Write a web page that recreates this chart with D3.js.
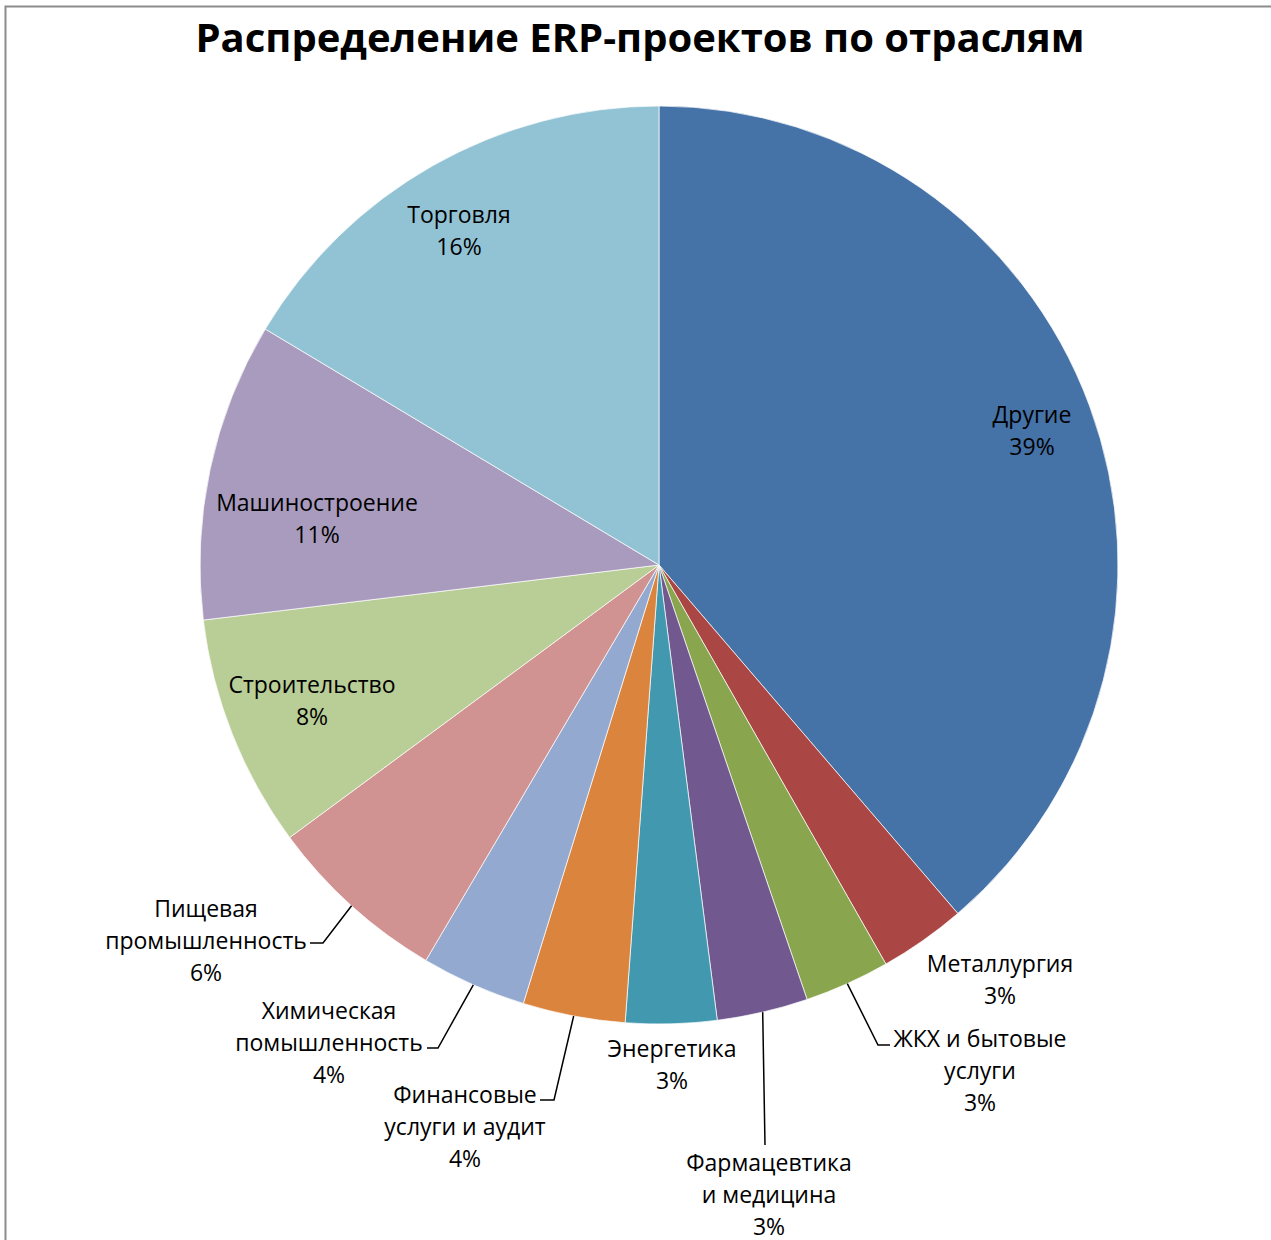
<!DOCTYPE html>
<html>
<head>
<meta charset="utf-8">
<script src="https://cdn.jsdelivr.net/npm/d3@7"></script>
<style>
  body { margin: 0; background: #fff; }
  text { font-family: "Open Sans", sans-serif; fill: #000; }
</style>
</head>
<body>
<div id="pie"></div>
<script>
// data
const categories = ['Другие', 'Металлургия', 'ЖКХ и бытовые услуги', 'Фармацевтика и медицина',
    'Энергетика', 'Финансовые услуги и аудит', 'Химическая помышленность',
    'Пищевая промышленность', 'Строительство', 'Машиностроение', 'Торговля'];
const values = [38.7, 3.05, 3.0, 3.2, 3.2, 3.6, 3.7, 6.4, 8.2, 10.5, 16.4];
const percentLabels = ['39%', '3%', '3%', '3%', '3%', '4%', '4%', '6%', '8%', '11%', '16%'];
const labelLines = [
    ['Другие'], ['Металлургия'], ['ЖКХ и бытовые', 'услуги'], ['Фармацевтика', 'и медицина'],
    ['Энергетика'], ['Финансовые', 'услуги и аудит'], ['Химическая', 'помышленность'],
    ['Пищевая', 'промышленность'], ['Строительство'], ['Машиностроение'], ['Торговля']
];
const colors = ['#4572A7', '#AA4643', '#89A54E', '#71588F', '#4198AF', '#DB843D',
    '#93A9CF', '#D19392', '#B9CD96', '#A99BBD', '#92C3D4'];

const W = 1271, H = 1240;
const cx = 659, cy = 565, R = 459;
const lh = 32;

// label centres relative to pie centre, and leader elbow (null = no leader)
const labelPos = [
    [373, -134], [341, 415], [321, 506], [110, 630], [13, 500], [-194, 562],
    [-330, 478], [-453, 376], [-347, 136], [-342, -46], [-200, -334]
];
const elbows = [null, null, [219, 480], [106, 580], null, [-105, 535],
    [-221, 483], [-336, 378], null, null, null];
const textEnds = [null, null, [231, 480], [106, 580], null, [-119, 535],
    [-232, 483], [-349, 378], null, null, null];

const svg = d3.select('#pie')
    .append('svg')
    .attr('width', W)
    .attr('height', H);

// chart frame
svg.append('rect')
    .attr('x', 5.5).attr('y', 6.5)
    .attr('width', W + 20).attr('height', H + 20)
    .attr('fill', 'none')
    .attr('stroke', '#8c8c8c')
    .attr('stroke-width', 2);

svg.append('text')
    .attr('x', 640)
    .attr('y', 52)
    .attr('text-anchor', 'middle')
    .style('font-size', '40px')
    .style('font-weight', 'bold')
    .text('Распределение ERP-проектов по отраслям');

const data = categories.map((c, i) => ({name: c, v: values[i], i: i}));

const pie = d3.pie()
    .value(d => d.v)
    .sort(null);

const arc = d3.arc()
    .innerRadius(0)
    .outerRadius(R);

const pieData = pie(data);

const g = svg.append('g')
    .attr('transform', `translate(${cx},${cy})`);

g.selectAll('path')
    .data(pieData)
    .enter()
    .append('path')
    .attr('d', arc)
    .attr('fill', d => colors[d.data.i])
    .attr('stroke', '#fff')
    .attr('stroke-width', 0.7);

// leader lines
g.selectAll('polyline')
    .data(pieData.filter(d => elbows[d.data.i]))
    .enter()
    .append('polyline')
    .attr('fill', 'none')
    .attr('stroke', '#000')
    .attr('stroke-width', 1.5)
    .attr('points', d => {
        const a = (d.startAngle + d.endAngle) / 2;
        const p0 = [R * Math.sin(a), -R * Math.cos(a)];
        const e = elbows[d.data.i], t = textEnds[d.data.i];
        return [p0, e, t].map(p => p.join(',')).join(' ');
    });

// labels
g.selectAll('text.lbl')
    .data(pieData)
    .enter()
    .append('text')
    .attr('class', 'lbl')
    .attr('text-anchor', 'middle')
    .style('font-size', '23px')
    .each(function(d) {
        const lines = labelLines[d.data.i].concat([percentLabels[d.data.i]]);
        const p = labelPos[d.data.i];
        const y0 = p[1] - (lines.length - 1) * lh / 2;
        lines.forEach((s, k) => {
            d3.select(this).append('tspan')
                .attr('x', p[0])
                .attr('y', y0 + k * lh)
                .attr('dy', '0.35em')
                .text(s);
        });
    });
</script>
</body>
</html>
